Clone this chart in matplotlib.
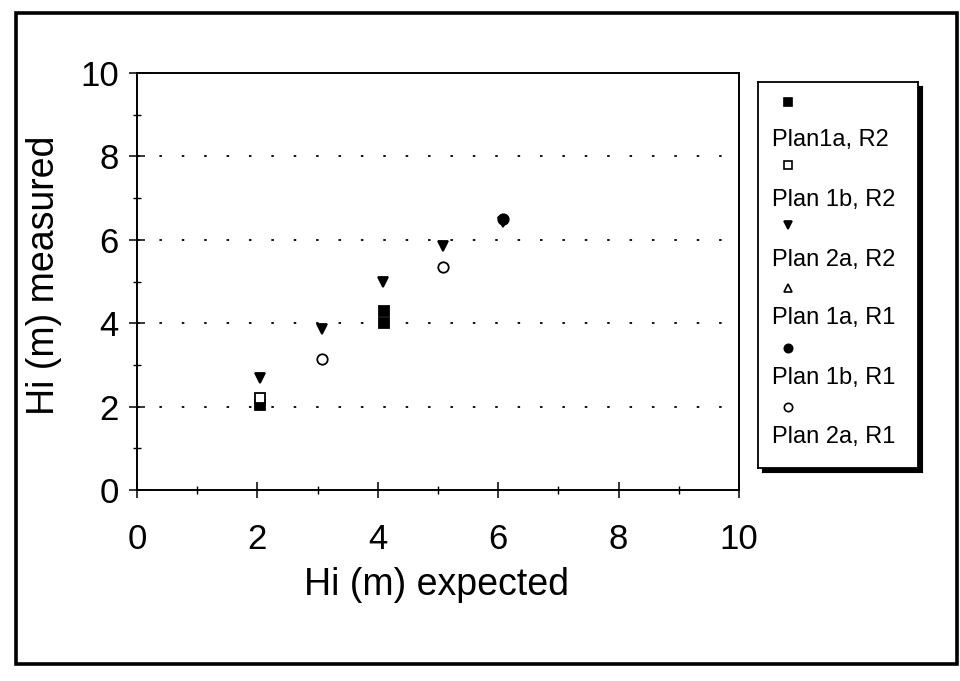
import matplotlib
matplotlib.use('Agg')
import matplotlib.pyplot as plt
from matplotlib.patches import Rectangle
from matplotlib.ticker import MultipleLocator

plt.rcParams['font.family'] = ['Liberation Sans', 'DejaVu Sans']

# measured vs expected heights, one list pair per plan / run
plan1a_r2_x = [2.05, 4.1, 4.1]
plan1a_r2_y = [2.05, 4.0, 4.3]
plan1b_r2_x = [2.05]
plan1b_r2_y = [2.2]
plan2a_r2_x = [2.05, 3.07, 4.08, 5.08, 6.08]
plan2a_r2_y = [2.68, 3.85, 5.0, 5.85, 6.42]
plan1a_r1_x = []
plan1a_r1_y = []
plan1b_r1_x = [6.08]
plan1b_r1_y = [6.5]
plan2a_r1_x = [3.07, 5.08]
plan2a_r1_y = [3.15, 5.35]

labels = ['Plan1a, R2', 'Plan 1b, R2', 'Plan 2a, R2',
          'Plan 1a, R1', 'Plan 1b, R1', 'Plan 2a, R1']
xticks = [0, 2, 4, 6, 8, 10]
yticks = [0, 2, 4, 6, 8, 10]

series = [
    (plan1a_r2_x, plan1a_r2_y, dict(marker='s', mfc='black', mec='black')),
    (plan1b_r2_x, plan1b_r2_y, dict(marker='s', mfc='white', mec='black')),
    (plan2a_r2_x, plan2a_r2_y, dict(marker='v', mfc='black', mec='black')),
    (plan1a_r1_x, plan1a_r1_y, dict(marker='^', mfc='white', mec='black')),
    (plan1b_r1_x, plan1b_r1_y, dict(marker='o', mfc='black', mec='black')),
    (plan2a_r1_x, plan2a_r1_y, dict(marker='o', mfc='white', mec='black')),
]

W, H = 960, 681
fig = plt.figure(figsize=(W / 100, H / 100), dpi=100)

# outer frame
fig.patches.append(Rectangle((16 / W, 1 - 664 / H), 941 / W, 651 / H,
                             transform=fig.transFigure, fill=False,
                             lw=2.6, ec='black'))

ax = fig.add_axes([137 / W, 1 - 490 / H, 602 / W, 417 / H])
for x, y, st in series:
    ax.plot(x, y, ls='none', ms=7.5, mew=1.3, **st)

ax.set_xlim(0, 10)
ax.set_ylim(0, 10)
ax.set_xticks(xticks)
ax.set_yticks(yticks)
ax.xaxis.set_minor_locator(MultipleLocator(1))
ax.yaxis.set_minor_locator(MultipleLocator(1))
ax.tick_params(which='major', direction='inout', length=12, width=1.1,
               labelsize=25)
ax.tick_params(axis='x', which='major', pad=18)
ax.tick_params(axis='y', which='major', pad=7)
ax.tick_params(which='minor', direction='inout', length=6, width=1.0)
for sp in ax.spines.values():
    sp.set_linewidth(1.4)

for yv in yticks[1:-1]:
    ax.axhline(yv, color='black', lw=1.3, dashes=(1.4, 11), zorder=0)

ax.set_xlabel('Hi (m) expected', fontsize=27)
ax.set_ylabel('Hi (m) measured', fontsize=27)
ax.xaxis.set_label_coords(0.497, -0.185)
ax.yaxis.set_label_coords(-0.125, 0.515)

# legend panel with marker above each label
lx0, ly0, lx1, ly1 = 758, 82, 918, 468
shadow = fig.add_axes([(lx0 + 4) / W, 1 - (ly1 + 4) / H, (lx1 - lx0) / W, (ly1 - ly0) / H])
shadow.set_facecolor('black')
shadow.set_xticks([])
shadow.set_yticks([])
leg = fig.add_axes([lx0 / W, 1 - ly1 / H, (lx1 - lx0) / W, (ly1 - ly0) / H])
leg.set_xlim(0, lx1 - lx0)
leg.set_ylim(ly1 - ly0, 0)
leg.set_xticks([])
leg.set_yticks([])
for sp in leg.spines.values():
    sp.set_linewidth(1.3)
marker_rows = [20, 83, 143, 206, 266, 325]
label_rows = [58, 118, 178, 236, 296, 355]
for (x, y, st), lab, my, ty in zip(series, labels, marker_rows, label_rows):
    leg.plot([30], [my], ls='none', ms=6, mew=1.2, **st)
    leg.text(14, ty, lab, fontsize=17, va='center', ha='left')

fig.savefig('out.png', dpi=100)
